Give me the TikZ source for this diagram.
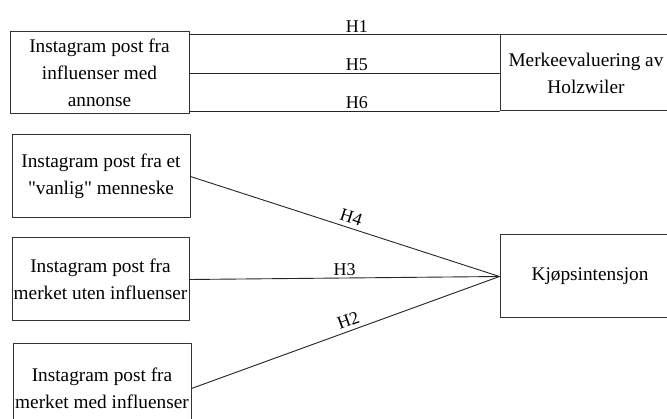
\documentclass[tikz,border=0pt]{standalone}
\usepackage{fontspec}
\setmainfont{Liberation Serif}[Ligatures=TeXOff]
\usepackage{xcolor}
\usetikzlibrary{positioning}

\begin{document}
\begin{tikzpicture}[x=1pt, y=-1pt, line join = round, line cap = round,
    factor/.style={draw=black!80, line width=1pt, rectangle, align=center,
        inner sep=0pt, font=\fontsize{19.3}{27}\selectfont},
    hyp/.style={draw=black!85, line width=0.9pt},
    hlabel/.style={font=\fontsize{18}{20}\selectfont, inner sep=2pt}]

    \useasboundingbox (0,0) rectangle (667,419);
    \clip (0,0) rectangle (667,419);

    % influencer post with ad
    \node[factor, minimum width=179, minimum height=82] (annonse) at (99.5,73)
        {Instagram post fra\\influenser med\\annonse};
    % brand evaluation
    \node[factor, minimum width=172, minimum height=76] (merke) at (586,73)
        {Merkeevaluering av\\Holzwiler};

    % the three other posts
    \node[factor, minimum width=178, minimum height=83] (vanlig) at (101,176.5)
        {Instagram post fra et\\"vanlig" menneske};
    \node[factor, minimum width=177, minimum height=83] (uten) at (100.5,279.5)
        {Instagram post fra\\merket uten influenser};
    \node[factor, minimum width=178, minimum height=89] (med) at (102,388.5)
        {Instagram post fra\\merket med influenser};

    % purchase intention
    \node[factor, minimum width=180, minimum height=83] (kjop) at (590,276.5)
        {Kjøpsintensjon};

    % H1, H5, H6
    \draw[hyp] (annonse.east |- merke.north west) -- node[hlabel, above, pos=0.54] {H1} (merke.north west);
    \draw[hyp] (annonse.east) -- node[hlabel, above, pos=0.54] {H5} (annonse.east -| merke.west);
    \draw[hyp] (annonse.east |- merke.south west) -- node[hlabel, above, pos=0.54] {H6} (merke.south west);

    % H4, H3, H2
    \draw[hyp] (vanlig.east) -- node[hlabel, above=2pt, sloped, pos=0.51] {H4} (kjop.west);
    \draw[hyp] (uten.east) -- node[hlabel, above, pos=0.5] {H3} (kjop.west);
    \draw[hyp] (med.east) -- node[hlabel, above=2pt, sloped, pos=0.52] {H2} (kjop.west);

\end{tikzpicture}
\end{document}
